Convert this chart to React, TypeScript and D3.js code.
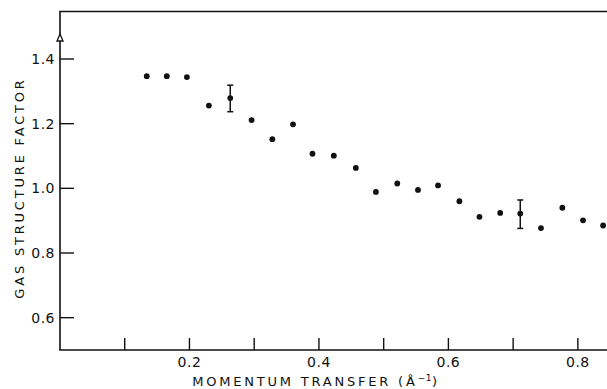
import React, { useRef, useEffect } from 'react';
import * as d3 from 'd3';

// momentum transfer (1/Å) and gas structure factor
const qValues = [0.134, 0.165, 0.196, 0.230, 0.263, 0.296, 0.328, 0.360, 0.390, 0.423, 0.457, 0.488,
  0.521, 0.553, 0.584, 0.617, 0.648, 0.680, 0.711, 0.743, 0.776, 0.808, 0.839];
const sValues = [1.347, 1.347, 1.344, 1.256, 1.279, 1.211, 1.152, 1.198, 1.107, 1.101, 1.063, 0.989,
  1.015, 0.995, 1.009, 0.960, 0.912, 0.924, 0.922, 0.877, 0.940, 0.901, 0.885];

// error bars: [q, low, high]
const errorBars: [number, number, number][] = [
  [0.263, 1.237, 1.319],
  [0.711, 0.876, 0.964],
];

const xTicks = [0.1, 0.2, 0.3, 0.4, 0.5, 0.6, 0.7, 0.8];
const xTickLabels = ['0.2', '0.4', '0.6', '0.8'];
const yTicks = [0.6, 0.8, 1.0, 1.2, 1.4];
const yTickLabels = ['0.6', '0.8', '1.0', '1.2', '1.4'];
const markerValue = 1.465;

const W = 607;
const H = 389;
const FONT = '"DejaVu Sans", sans-serif';

export default function App() {
  const svgRef = useRef<SVGSVGElement | null>(null);

  useEffect(() => {
    if (!svgRef.current) return;
    const svg = d3.select(svgRef.current);
    svg.selectAll('*').remove();

    const x = d3.scaleLinear().domain([0, 0.845]).range([60, 607]);
    const y = d3.scaleLinear().domain([0.5, 1.4]).range([350, 59]);
    const yTop = 1.547;

    const g = svg.append('g').attr('stroke', '#111').attr('fill', 'none');

    // frame: left axis, bottom axis, top border
    g.append('path')
      .attr('d', `M${W},${y(yTop)} H${x(0)} V${y(0.5)} H${W}`)
      .attr('stroke-width', 1.6);

    // x ticks (pointing up)
    g.selectAll('.xt')
      .data(xTicks)
      .join('line')
      .attr('x1', d => x(d))
      .attr('x2', d => x(d))
      .attr('y1', y(0.5))
      .attr('y2', y(0.5) - 12)
      .attr('stroke-width', 1.4);

    // y ticks (pointing right)
    g.selectAll('.yt')
      .data(yTicks)
      .join('line')
      .attr('x1', x(0))
      .attr('x2', x(0) + 14)
      .attr('y1', d => y(d))
      .attr('y2', d => y(d))
      .attr('stroke-width', 1.4);

    // open triangle marker on y axis
    const my = y(markerValue);
    g.append('path')
      .attr('d', `M${x(0)},${my - 4} L${x(0) + 3},${my + 3} L${x(0) - 3},${my + 3} Z`)
      .attr('fill', '#fff')
      .attr('stroke-width', 1.3);

    // tick labels
    svg.append('g')
      .selectAll('text')
      .data(xTickLabels)
      .join('text')
      .attr('x', d => x(+d))
      .attr('y', 367)
      .attr('text-anchor', 'middle')
      .attr('font-family', FONT)
      .attr('font-size', 14)
      .attr('letter-spacing', 0.5)
      .attr('fill', '#111')
      .text(d => d);

    svg.append('g')
      .selectAll('text')
      .data(yTickLabels)
      .join('text')
      .attr('x', 55)
      .attr('y', d => y(+d) + 5)
      .attr('text-anchor', 'end')
      .attr('font-family', FONT)
      .attr('font-size', 14)
      .attr('letter-spacing', 0.5)
      .attr('fill', '#111')
      .text(d => d);

    // axis titles
    const xt = svg.append('text')
      .attr('x', 316)
      .attr('y', 386)
      .attr('text-anchor', 'middle')
      .attr('font-family', FONT)
      .attr('font-size', 13)
      .attr('letter-spacing', 2.8)
      .attr('fill', '#111');
    xt.append('tspan').text('MOMENTUM  TRANSFER  (Å');
    xt.append('tspan').attr('dy', -5).attr('font-size', 9).attr('letter-spacing', 0.5).text('−1');
    xt.append('tspan').attr('dy', 5).text(')');

    svg.append('text')
      .attr('transform', 'translate(24,188) rotate(-90)')
      .attr('text-anchor', 'middle')
      .attr('font-family', FONT)
      .attr('font-size', 13)
      .attr('letter-spacing', 2.8)
      .attr('fill', '#111')
      .text('GAS  STRUCTURE  FACTOR');

    // error bars
    const eb = svg.append('g').attr('stroke', '#111').attr('stroke-width', 1.5);
    errorBars.forEach(([q, lo, hi]) => {
      eb.append('line').attr('x1', x(q)).attr('x2', x(q)).attr('y1', y(lo)).attr('y2', y(hi));
      eb.append('line').attr('x1', x(q) - 3).attr('x2', x(q) + 3).attr('y1', y(lo)).attr('y2', y(lo));
      eb.append('line').attr('x1', x(q) - 3).attr('x2', x(q) + 3).attr('y1', y(hi)).attr('y2', y(hi));
    });

    // data points
    svg.append('g')
      .selectAll('circle')
      .data(qValues.map((q, i) => ({ q, s: sValues[i] })))
      .join('circle')
      .attr('cx', d => x(d.q))
      .attr('cy', d => y(d.s))
      .attr('r', 2.9)
      .attr('fill', '#111');
  }, []);

  return (
    <div style={{ position: 'absolute', left: 0, top: 0, width: W, height: H, background: '#fff' }}>
      <svg ref={svgRef} width={W} height={H}></svg>
    </div>
  );
}
